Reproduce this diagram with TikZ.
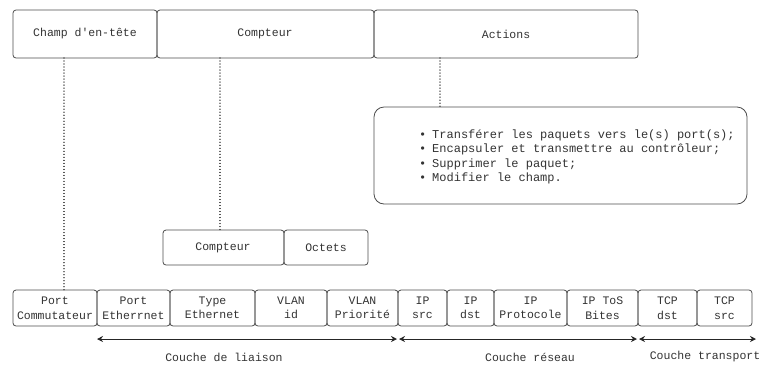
\documentclass[tikz,border=0pt]{standalone}
\usepackage{fontspec}
\setmonofont{Liberation Mono}
\usetikzlibrary{arrows.meta}
\newcommand{\itembullet}{\makebox[13pt][l]{•}}
\begin{document}
\begin{tikzpicture}[x=1pt,y=-1pt,
  every node/.style={font=\ttfamily\fontsize{11.5}{12.5}\selectfont, text=black!80},
  fieldbox/.style={draw=black!70, line width=0.8pt, rounded corners=3pt},
  bigbox/.style={draw=black!70, line width=0.8pt, rounded corners=10pt},
  dotline/.style={black!80, line width=1.2pt, dash pattern=on 0.01pt off 3pt, line cap=round},
  layerarrow/.style={black!85, line width=0.9pt, {Stealth[length=6pt,width=6pt]}-{Stealth[length=6pt,width=6pt]}}
]
\useasboundingbox (0,0) rectangle (762,368);

% top row: header / counter / actions
\draw[fieldbox] (13,10) rectangle (157,58);
\draw[fieldbox] (157,10) rectangle (374,58);
\draw[fieldbox] (374,10) rectangle (638,58);
\node (champ) at (85,34) {Champ d'en-tête};
\node (compteur) at (265,34) {Compteur};
\node (actions) at (506,34) {Actions};
\coordinate (champB) at (64,58);
\coordinate (compteurB) at (220,58);
\coordinate (actionsB) at (440,58);

% actions list
\draw[bigbox] (374,107) rectangle (747,204);
\coordinate (listT) at (440,107);
\node[anchor=west, align=left, inner sep=0pt, font=\ttfamily\fontsize{12}{14.4}\selectfont] (liste) at (419,157)
  {\itembullet Transférer les paquets vers le(s) port(s);\\
   \itembullet Encapsuler et transmettre au contrôleur;\\
   \itembullet Supprimer le paquet;\\
   \itembullet Modifier le champ.};

% counter detail
\draw[fieldbox] (163,230) rectangle (284,265);
\draw[fieldbox] (284,230) rectangle (368,265);
\node (cpt) at (223,248) {Compteur};
\node (oct) at (326,248) {Octets};
\coordinate (cptT) at (220,230);

% bottom row: match fields
\foreach \xa/\xb/\txt [count=\i] in {
  13/97/{Port\\Commutateur},
  97/170/{Port\\Etherrnet},
  170/255/{Type\\Ethernet},
  255/327/{VLAN\\id},
  327/398/{VLAN\\Priorité},
  398/447/{IP\\src},
  447/494/{IP\\dst},
  494/567/{IP\\Protocole},
  567/638/{IP ToS\\Bites},
  638/697/{TCP\\dst},
  697/752/{TCP\\src}} {
  \draw[fieldbox] (\xa,290) rectangle (\xb,326);
  \node[align=center, font=\ttfamily\fontsize{11.5}{14.5}\selectfont] (f\i) at ({(\xa+\xb)/2},308) {\txt};
}
\coordinate (portT) at (64,290);

% dotted links
\draw[dotline] (champB) -- (portT);
\draw[dotline] (compteurB) -- (cptT);
\draw[dotline] (actionsB) -- (listT);

% layer arrows
\coordinate (l1) at (97,339);
\coordinate (l2) at (398,339);
\coordinate (l3) at (638,339);
\coordinate (l4) at (756,339);
\draw[layerarrow] (l1) -- ([xshift=-1pt]l2);
\draw[layerarrow] ([xshift=1pt]l2) -- ([xshift=-1pt]l3);
\draw[layerarrow] ([xshift=1pt]l3) -- (l4);
\node (liaison) at (224,357) {Couche de liaison};
\node (reseau) at (530,357) {Couche réseau};
\node (transport) at (705,357) {Couche transport};
\end{tikzpicture}
\end{document}
